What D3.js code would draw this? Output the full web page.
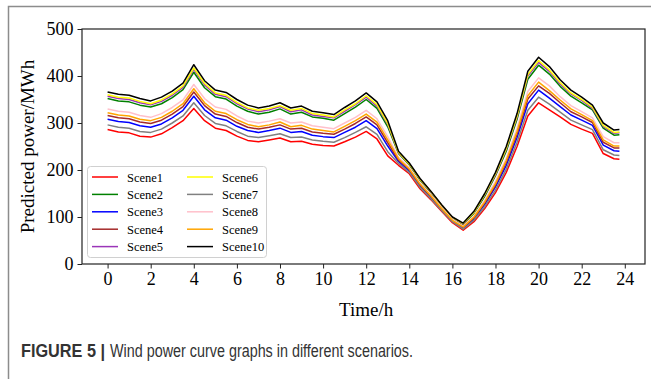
<!DOCTYPE html>
<html>
<head>
<meta charset="utf-8">
<script src="https://cdn.jsdelivr.net/npm/d3@7"></script>
<style>
  body { margin: 0; background: #fff; }
  svg { display: block; }
</style>
</head>
<body>
<div class="visualization"></div>
<script>
// time axis (hours), half-hour readings plus the last quarter
const hours = [0, 0.5, 1, 1.5, 2, 2.5, 3, 3.5, 4, 4.5, 5, 5.5, 6, 6.5, 7, 7.5, 8, 8.5, 9, 9.5,
  10, 10.5, 11, 11.5, 12, 12.5, 13, 13.5, 14, 14.5, 15, 15.5, 16, 16.5, 17, 17.5, 18, 18.5, 19, 19.5,
  20, 20.5, 21, 21.5, 22, 22.5, 23, 23.5, 23.75];

const scene1 = [286, 281, 279, 272, 270, 277, 290, 305, 331, 305, 289, 284, 272, 263, 260, 264, 268, 260, 261, 255,
  252, 251, 260, 270, 282, 266, 230, 210, 192, 160, 137, 112, 88, 72, 90, 118, 152, 195, 250, 315,
  343, 328, 313, 297, 287, 278, 235, 224, 223];
const scene2 = [352, 347, 345, 338, 334, 341, 354, 371, 408, 375, 356, 351, 336, 325, 319, 323, 330, 319, 323, 313,
  310, 306, 320, 334, 350, 331, 292, 235, 211, 178, 152, 124, 98, 84, 108, 144, 188, 240, 308, 393,
  423, 404, 378, 357, 343, 328, 289, 274, 275];
const scene3 = [308, 303, 301, 294, 291, 298, 311, 327, 357, 328, 311, 306, 293, 284, 280, 284, 289, 280, 282, 274,
  271, 269, 280, 291, 305, 288, 251, 218, 198, 166, 142, 116, 91, 76, 96, 127, 164, 210, 269, 341,
  370, 353, 335, 317, 306, 295, 253, 241, 240];
const scene4 = [316, 311, 309, 302, 299, 306, 319, 335, 366, 337, 319, 314, 301, 291, 287, 291, 296, 287, 289, 281,
  278, 276, 287, 299, 313, 296, 258, 221, 201, 168, 144, 117, 93, 78, 98, 130, 168, 216, 276, 351,
  379, 363, 343, 324, 313, 301, 259, 247, 247];
const scene5 = [357, 352, 350, 343, 339, 346, 359, 376, 414, 381, 361, 356, 341, 330, 324, 328, 335, 324, 328, 317,
  314, 311, 325, 339, 355, 336, 297, 237, 213, 180, 153, 125, 99, 85, 110, 147, 190, 244, 312, 400,
  429, 410, 383, 362, 348, 331, 293, 278, 279];
const scene6 = [360, 355, 353, 346, 341, 349, 362, 379, 417, 384, 364, 359, 344, 332, 327, 331, 337, 327, 331, 320,
  317, 313, 328, 341, 358, 339, 299, 238, 213, 180, 154, 125, 99, 86, 110, 148, 192, 246, 315, 403,
  433, 413, 386, 364, 350, 334, 295, 280, 281];
const scene7 = [296, 291, 289, 282, 280, 287, 300, 315, 343, 316, 299, 294, 282, 272, 269, 273, 277, 269, 270, 264,
  261, 259, 269, 280, 292, 276, 239, 214, 195, 163, 139, 114, 90, 74, 93, 122, 157, 202, 259, 327,
  355, 340, 323, 306, 296, 286, 243, 232, 231];
const scene8 = [330, 325, 323, 316, 312, 320, 333, 349, 382, 352, 334, 329, 315, 304, 300, 304, 309, 300, 302, 294,
  291, 288, 300, 312, 327, 309, 271, 227, 205, 172, 147, 120, 95, 80, 102, 136, 176, 225, 289, 367,
  396, 379, 356, 337, 324, 311, 271, 258, 258];
const scene9 = [322, 317, 315, 308, 305, 312, 325, 341, 373, 343, 325, 320, 307, 297, 292, 296, 302, 292, 295, 287,
  284, 281, 293, 305, 319, 302, 264, 224, 202, 170, 145, 118, 93, 79, 100, 132, 171, 220, 282, 358,
  387, 369, 349, 330, 318, 305, 264, 251, 251];
const scene10 = [366, 361, 359, 352, 347, 355, 368, 385, 424, 390, 370, 365, 350, 338, 332, 336, 343, 332, 336, 325,
  322, 318, 333, 347, 364, 345, 305, 240, 215, 182, 155, 126, 100, 87, 112, 150, 195, 250, 320, 410,
  440, 420, 392, 370, 355, 338, 300, 285, 286];

const sceneNames = ["Scene1", "Scene2", "Scene3", "Scene4", "Scene5", "Scene6", "Scene7", "Scene8", "Scene9", "Scene10"];
const sceneValues = [scene1, scene2, scene3, scene4, scene5, scene6, scene7, scene8, scene9, scene10];
const sceneColors = ["#ff0000", "#008000", "#0000ff", "#a52a2a", "#9b35b8", "#ffff00", "#808080", "#ffc0cb", "#ffa500", "#000000"];

const xTicks = [0, 2, 4, 6, 8, 10, 12, 14, 16, 18, 20, 22, 24];
const yTicks = [0, 100, 200, 300, 400, 500];

const W = 651, H = 379;
const plot = { left: 82, right: 645, top: 29, bottom: 264 };
const serif = "'Liberation Serif', 'Times New Roman', serif";
const sans = "'Liberation Sans', Arial, sans-serif";

const svg = d3.select(".visualization")
    .append("svg")
    .attr("width", W)
    .attr("height", H);

svg.append("rect").attr("width", W).attr("height", H).attr("fill", "#fff");

// outer figure frame (runs off the right and bottom edges)
svg.append("path")
    .attr("d", `M8.5,${H + 2} V6.5 H${W + 2}`)
    .attr("fill", "none")
    .attr("stroke", "#8c8c8c")
    .attr("stroke-width", 1.5);

const x = d3.scaleLinear().domain([-1.1875, 24.9375]).range([plot.left, plot.right]);
const y = d3.scaleLinear().domain([0, 500]).range([plot.bottom, plot.top]);

const line = d3.line()
    .x((d, i) => x(hours[i]))
    .y(d => y(d));

const g = svg.append("g");

g.append("defs").append("clipPath").attr("id", "clip")
    .append("rect")
    .attr("x", plot.left).attr("y", plot.top)
    .attr("width", plot.right - plot.left).attr("height", plot.bottom - plot.top);

g.append("g").attr("clip-path", "url(#clip)")
    .selectAll("path")
    .data(sceneValues)
    .join("path")
    .attr("d", line)
    .attr("fill", "none")
    .attr("stroke", (d, i) => sceneColors[i])
    .attr("stroke-width", 1.5)
    .attr("stroke-linejoin", "round");

// axes
const xAxis = g.append("g")
    .attr("transform", `translate(0,${plot.bottom})`)
    .call(d3.axisBottom(x).tickValues(xTicks).tickSize(4.5).tickPadding(4));
const yAxis = g.append("g")
    .attr("transform", `translate(${plot.left},0)`)
    .call(d3.axisLeft(y).tickValues(yTicks).tickSize(4.5).tickPadding(4));

[xAxis, yAxis].forEach(a => {
    a.select(".domain").remove();
    a.selectAll("line").attr("stroke", "#222").attr("stroke-width", 1);
    a.selectAll("text")
        .attr("fill", "#000")
        .style("font-family", serif)
        .style("font-size", "18px");
});

g.append("rect")
    .attr("x", plot.left).attr("y", plot.top)
    .attr("width", plot.right - plot.left).attr("height", plot.bottom - plot.top)
    .attr("fill", "none")
    .attr("stroke", "#222")
    .attr("stroke-width", 1.2);

svg.append("text")
    .attr("x", (x(0) + x(24)) / 2)
    .attr("y", 316)
    .attr("text-anchor", "middle")
    .style("font-family", serif)
    .style("font-size", "19px")
    .text("Time/h");

svg.append("text")
    .attr("transform", `translate(34,${(plot.top + plot.bottom) / 2}) rotate(-90)`)
    .attr("text-anchor", "middle")
    .style("font-family", serif)
    .style("font-size", "19px")
    .text("Predicted power/MWh");

// legend, two columns of five
const legend = svg.append("g");
legend.append("rect")
    .attr("x", 87.5).attr("y", 166.5)
    .attr("width", 179).attr("height", 91)
    .attr("rx", 3)
    .attr("fill", "#fff").attr("fill-opacity", 0.85)
    .attr("stroke", "#d0d0d0");

sceneNames.forEach((name, i) => {
    const col = Math.floor(i / 5), row = i % 5;
    const lx = 92 + col * 95, ly = 177 + row * 17.4;
    legend.append("line")
        .attr("x1", lx).attr("x2", lx + 26)
        .attr("y1", ly).attr("y2", ly)
        .attr("stroke", sceneColors[i])
        .attr("stroke-width", 1.5);
    legend.append("text")
        .attr("x", lx + 35).attr("y", ly + 4.5)
        .style("font-family", serif)
        .style("font-size", "12.5px")
        .text(name);
});

// caption (narrow sans, squeezed to the reference width)
svg.append("text")
    .attr("x", 21).attr("y", 357)
    .attr("textLength", 84)
    .attr("lengthAdjust", "spacingAndGlyphs")
    .style("font-family", sans)
    .style("font-size", "17.5px")
    .style("font-weight", "bold")
    .attr("fill", "#333")
    .text("FIGURE 5 |");
svg.append("text")
    .attr("x", 110).attr("y", 357)
    .attr("textLength", 303)
    .attr("lengthAdjust", "spacingAndGlyphs")
    .style("font-family", sans)
    .style("font-size", "17.5px")
    .attr("fill", "#333")
    .text("Wind power curve graphs in different scenarios.");
</script>
</body>
</html>
